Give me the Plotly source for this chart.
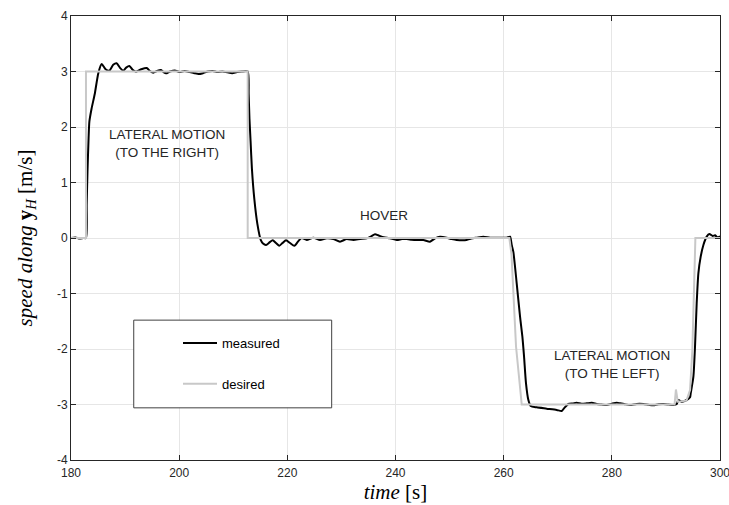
import plotly.graph_objects as go

# ---------------- data ----------------
measured_t = [180.0, 180.8, 181.6, 182.3, 182.77, 182.9, 183.05, 183.25, 183.4, 183.8,
              184.4, 185.05, 185.67, 186.4, 187.09, 187.8, 188.44, 189.1, 189.68, 190.2,
              190.79, 191.4, 192.02, 193.0, 193.99, 194.6, 195.22, 195.9, 196.64, 197.1,
              197.57, 198.3, 199.2, 200.1, 201.0, 201.9, 202.8, 203.6, 204.4, 205.3,
              206.2, 207.1, 208.0, 208.9, 209.8, 210.7, 211.6, 212.67, 212.85, 213.0,
              213.2, 213.45, 213.9, 214.45, 215.1, 215.5, 216.06, 216.7, 217.29, 217.9,
              218.52, 219.1, 219.76, 220.5, 221.3, 222.0, 222.65, 223.58, 224.81, 226.04,
              227.28, 228.51, 229.74, 230.97, 232.21, 233.44, 234.67, 235.5, 236.21, 236.8,
              237.45, 238.99, 240.22, 241.2, 242.07, 243.0, 243.92, 245.15, 246.38, 247.31,
              248.23, 249.47, 250.4, 251.31, 253.16, 254.0, 255.01, 256.25, 257.48, 258.71,
              260.56, 261.18, 261.49, 261.79, 262.41, 263.03, 263.46, 263.77, 264.13, 264.57,
              265.0, 266.11, 267.96, 269.81, 270.73, 271.16, 271.96, 272.8, 273.5, 274.4,
              275.35, 276.3, 277.2, 278.1, 279.05, 280.0, 280.9, 281.52, 282.4, 283.37,
              284.6, 285.83, 286.8, 287.68, 288.6, 289.53, 290.5, 291.38, 292.0, 292.3,
              292.92, 293.84, 294.46, 294.58, 295.08, 295.38, 295.69, 296.0, 296.43, 296.93,
              297.54, 298.03, 298.65, 299.08, 299.51, 300.0]
measured_v = [0.0, 0.01, -0.01, 0.0, 0.0, 0.6, 1.2, 1.8, 2.1, 2.33,
              2.6, 2.97, 3.135, 3.04, 3.015, 3.12, 3.148, 3.06, 3.015, 3.07,
              3.10, 3.03, 2.997, 3.04, 3.063, 3.01, 2.979, 3.01, 3.027, 2.99,
              2.967, 3.0, 3.02, 2.99, 3.01, 2.99, 2.97, 2.955, 2.97, 3.0,
              3.01, 2.99, 3.0, 2.985, 2.97, 2.99, 3.0, 3.0, 2.6, 2.15,
              1.75, 1.25, 0.7, 0.26, -0.04, -0.1, -0.125, -0.08, -0.04, -0.09,
              -0.14, -0.09, -0.04, -0.09, -0.14, -0.06, 0.0, -0.036, 0.006, -0.036,
              -0.006, -0.018, -0.066, -0.018, -0.036, -0.018, -0.006, 0.03, 0.066, 0.05,
              0.024, -0.006, -0.036, -0.02, -0.018, -0.03, -0.036, -0.036, -0.066, -0.006,
              0.024, 0.006, -0.02, -0.036, -0.036, -0.01, 0.006, 0.024, 0.006, 0.006,
              0.006, 0.024, -0.126, -0.25, -0.817, -1.418, -1.778, -2.138, -2.619, -2.919,
              -3.027, -3.051, -3.075, -3.099, -3.117, -3.069, -2.991, -2.98, -2.967, -2.985,
              -2.979, -2.97, -2.991, -3.0, -3.009, -2.985, -2.967, -2.979, -2.995, -3.009,
              -2.99, -2.991, -3.005, -3.015, -2.995, -2.991, -3.0, -3.009, -2.991, -2.919,
              -2.949, -2.919, -2.871, -2.80, -2.499, -1.958, -1.177, -0.637, -0.336, -0.126,
              0.024, 0.072, 0.036, 0.048, 0.012, 0.03]

desired_t = [180.0, 182.77, 182.77, 212.67, 212.67, 261.05, 261.45, 262.29, 263.34,
             291.6, 291.85, 292.2, 293.8, 294.46, 294.89, 295.2, 295.45, 300.0]
desired_v = [0.0, 0.0, 3.0, 3.0, 0.0, 0.0, -0.3, -1.96, -3.0,
             -3.0, -2.73, -2.95, -2.93, -2.74, -2.02, -0.82, 0.0, 0.0]

x_ticks = [180, 200, 220, 240, 260, 280, 300]
x_tick_labels = ["180", "200", "220", "240", "260", "280", "300"]
y_ticks = [-4, -3, -2, -1, 0, 1, 2, 3, 4]
y_tick_labels = ["-4", "-3", "-2", "-1", "0", "1", "2", "3", "4"]

series_names = ["measured", "desired"]

notes_text = ["LATERAL MOTION<br>(TO THE RIGHT)", "HOVER", "LATERAL MOTION<br>(TO THE LEFT)"]
notes_x = [197.8, 237.8, 280.1]
notes_y = [1.71, 0.40, -2.28]

# ---------------- figure ----------------
AX = "#262626"
SANS = "Liberation Sans, Arial, sans-serif"
SERIF = "Liberation Serif, Times New Roman, serif"

fig = go.Figure()
fig.add_trace(go.Scatter(x=measured_t, y=measured_v, mode="lines", name=series_names[0],
                         line=dict(color="black", width=2, shape="spline", smoothing=0.6),
                         legendgroup="m"))
fig.add_trace(go.Scatter(x=desired_t, y=desired_v, mode="lines", name=series_names[1],
                         line=dict(color="#c8c8c8", width=2), legendgroup="d"))

# legend frame
fig.add_shape(type="rect", xref="x", yref="y", x0=191.6, x1=228.2, y0=-3.06, y1=-1.48,
              line=dict(color="#404040", width=1), fillcolor="white", layer="between")

for txt, xx, yy in zip(notes_text, notes_x, notes_y):
    fig.add_annotation(x=xx, y=yy, xref="x", yref="y", text=txt, showarrow=False,
                       font=dict(family=SANS, size=13.5, color=AX), align="center")

fig.update_layout(
    width=729, height=505,
    margin=dict(l=71, r=9, t=16, b=45, autoexpand=False),
    paper_bgcolor="white", plot_bgcolor="white",
    showlegend=True,
    legend=dict(x=(178 - 71) / 649, y=1 - (328 - 16) / 444, xanchor="left", yanchor="top",
                bgcolor="rgba(0,0,0,0)", borderwidth=0, traceorder="grouped",
                tracegroupgap=21, itemwidth=34,
                font=dict(family=SANS, size=13, color="black")),
    xaxis=dict(range=[180, 300], tickvals=x_ticks, ticktext=x_tick_labels,
               showgrid=True, gridcolor="#e6e6e6", gridwidth=1, zeroline=False,
               showline=True, linecolor=AX, linewidth=1, mirror="ticks",
               ticks="inside", ticklen=5, tickcolor=AX, tickwidth=1,
               ticklabeloverflow="allow", ticklabelstandoff=2,
               tickfont=dict(family=SANS, size=12, color=AX), automargin=False,
               title=dict(text="<i>time</i> [s]", standoff=1,
                          font=dict(family=SERIF, size=21, color="black"))),
    yaxis=dict(range=[-4, 4], tickvals=y_ticks, ticktext=y_tick_labels,
               showgrid=True, gridcolor="#e6e6e6", gridwidth=1, zeroline=False,
               showline=True, linecolor=AX, linewidth=1, mirror="ticks",
               ticks="inside", ticklen=5, tickcolor=AX, tickwidth=1,
               ticklabeloverflow="allow",
               tickfont=dict(family=SANS, size=12, color=AX), automargin=False,
               title=dict(text="<i>speed along</i> <b>y</b><sub><i>H</i></sub> [m/s]",
                          standoff=18, font=dict(family=SERIF, size=21, color="black"))),
)

fig.write_html("out.html")
